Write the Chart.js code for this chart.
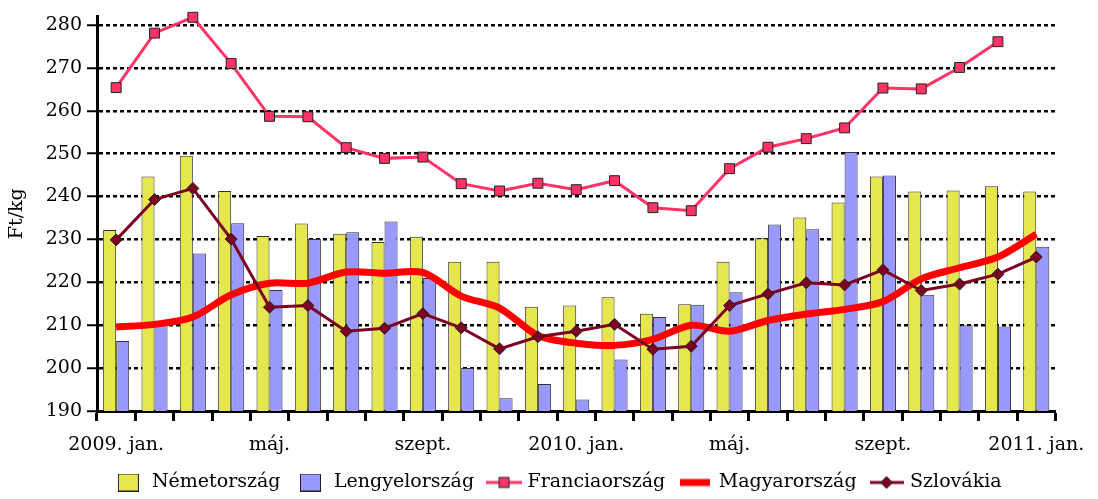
<!DOCTYPE html>
<html>
<head>
<meta charset="utf-8">
<script src="https://cdn.jsdelivr.net/npm/chart.js@4"></script>
<style>
    html, body { margin: 0; padding: 0; background: #fff; }
</style>
</head>
<body>
<canvas id="myChart" width="1098" height="499"></canvas>
<script>
const months = [
    "2009. jan.", "febr.", "márc.", "ápr.", "máj.", "jún.", "júl.", "aug.", "szept.", "okt.", "nov.", "dec.",
    "2010. jan.", "febr.", "márc.", "ápr.", "máj.", "jún.", "júl.", "aug.", "szept.", "okt.", "nov.", "dec.",
    "2011. jan.",
];
const yTicks = [190, 200, 210, 220, 230, 240, 250, 260, 270, 280];

const nemetorszag = [232.2, 244.7, 249.5, 241.3, 230.8, 233.7, 231.3, 229.4, 230.6, 224.8, 224.8, 214.3, 214.6,
    216.5, 212.7, 214.9, 224.8, 230.3, 235.1, 238.6, 244.7, 241.2, 241.4, 242.4, 241.2];
const lengyelorszag = [206.3, 211.0, 226.7, 233.8, 218.2, 230.1, 231.7, 234.2, 221.0, 200.0, 193.0, 196.3, 192.7,
    202.0, 211.9, 214.8, 217.7, 233.5, 232.4, 250.4, 244.9, 217.1, 210.0, 209.7, 228.3];
const franciaorszag = [265.4, 278.1, 281.8, 271.0, 258.7, 258.6, 251.4, 248.9, 249.2, 243.0, 241.3, 243.1, 241.6,
    243.7, 237.4, 236.7, 246.5, 251.5, 253.5, 256.0, 265.3, 265.1, 270.1, 276.1, null];
const magyarorszag = [209.6, 210.2, 211.9, 217.1, 219.8, 219.8, 222.4, 222.1, 222.3, 216.8, 214.0, 207.6, 205.8,
    205.3, 206.7, 210.0, 208.6, 211.1, 212.6, 213.7, 215.5, 220.8, 223.4, 225.9, 231.2];
const szlovakia = [229.9, 239.3, 241.9, 230.1, 214.2, 214.6, 208.6, 209.3, 212.7, 209.4, 204.5, 207.3, 208.6,
    210.2, 204.4, 205.1, 214.6, 217.3, 219.9, 219.4, 222.9, 218.1, 219.6, 221.9, 225.9];

const FONT = "'DejaVu Serif', 'Liberation Serif', serif";
const YELLOW = "#e6e64d";
const BLUE = "#9999ff";
const PINK = "#ff3366";
const RED = "#ff0000";
const MAROON = "#7d0022";

// small canvases used as legend symbols
const boxIcon = (color) => {
    const c = document.createElement("canvas");
    c.width = 21;
    c.height = 18;
    const ctx = c.getContext("2d");
    ctx.fillStyle = color;
    ctx.fillRect(0.5, 0.5, 20, 17);
    ctx.strokeStyle = "#222";
    ctx.lineWidth = 1;
    ctx.strokeRect(0.5, 0.5, 20, 17);
    return c;
};
const lineIcon = (color, width, lineW, marker) => {
    const c = document.createElement("canvas");
    c.width = width;
    c.height = 18;
    const ctx = c.getContext("2d");
    ctx.strokeStyle = color;
    ctx.lineWidth = lineW;
    ctx.beginPath();
    ctx.moveTo(0, 9);
    ctx.lineTo(width, 9);
    ctx.stroke();
    ctx.fillStyle = color;
    ctx.strokeStyle = "#222";
    ctx.lineWidth = 1;
    const cx = width / 2;
    if (marker === "square") {
        ctx.fillRect(cx - 5, 4, 10, 10);
        ctx.strokeRect(cx - 5, 4, 10, 10);
    } else if (marker === "diamond") {
        ctx.beginPath();
        ctx.moveTo(cx - 6, 9);
        ctx.lineTo(cx, 3);
        ctx.lineTo(cx + 6, 9);
        ctx.lineTo(cx, 15);
        ctx.closePath();
        ctx.fill();
        ctx.stroke();
    }
    return c;
};
const icons = [
    boxIcon(YELLOW),
    boxIcon(BLUE),
    lineIcon(PINK, 36, 3, "square"),
    lineIcon(RED, 30, 7),
    lineIcon(MAROON, 34, 3, "diamond"),
];

const data = {
    labels: months,
    datasets: [
        {
            type: "bar",
            label: "Németország",
            data: nemetorszag,
            backgroundColor: YELLOW,
            borderColor: "#333",
            borderWidth: 1,
            categoryPercentage: 0.68,
            barPercentage: 1.0,
            order: 4,
        },
        {
            type: "bar",
            label: "Lengyelország",
            data: lengyelorszag,
            backgroundColor: BLUE,
            borderColor: "#333",
            borderWidth: 1,
            categoryPercentage: 0.68,
            barPercentage: 1.0,
            order: 5,
        },
        {
            type: "line",
            label: "Franciaország",
            data: franciaorszag,
            borderColor: PINK,
            borderWidth: 3,
            backgroundColor: PINK,
            pointStyle: "rect",
            pointRadius: 7,
            pointBorderColor: "#222",
            pointBorderWidth: 1,
            pointBackgroundColor: PINK,
            tension: 0,
            clip: false,
            order: 2,
        },
        {
            type: "line",
            label: "Magyarország",
            data: magyarorszag,
            borderColor: RED,
            borderWidth: 7,
            backgroundColor: RED,
            pointRadius: 0,
            tension: 0.3,
            order: 3,
        },
        {
            type: "line",
            label: "Szlovákia",
            data: szlovakia,
            borderColor: MAROON,
            borderWidth: 3,
            backgroundColor: MAROON,
            pointStyle: "rectRot",
            pointRadius: 6,
            pointBorderColor: "#222",
            pointBorderWidth: 1,
            pointBackgroundColor: MAROON,
            tension: 0,
            order: 1,
        },
    ],
};

// the legend in the original sits a bit right of the canvas centre
const legendShift = {
    id: "legendShift",
    afterLayout(chart) {
        chart.legend.left += 28;
        chart.legend.right += 28;
    },
};

const config = {
    type: "bar",
    data,
    plugins: [legendShift],
    options: {
        responsive: false,
        animation: false,
        devicePixelRatio: 1,
        layout: {
            padding: { left: 0, right: 38, top: 11, bottom: -3 },
        },
        plugins: {
            tooltip: { enabled: false },
            legend: {
                position: "bottom",
                labels: {
                    font: { family: FONT, size: 19 },
                    color: "#000",
                    usePointStyle: true,
                    pointStyleWidth: 28,
                    padding: 16,
                    sort: (a, b) => a.datasetIndex - b.datasetIndex,
                    generateLabels: (chart) =>
                        Chart.defaults.plugins.legend.labels.generateLabels(chart).map((item) => {
                            item.pointStyle = icons[item.datasetIndex];
                            return item;
                        }),
                },
            },
        },
        scales: {
            x: {
                offset: true,
                grid: {
                    offset: true,
                    drawOnChartArea: false,
                    drawTicks: true,
                    tickLength: 10,
                    tickWidth: 3,
                    tickColor: "#000",
                },
                border: { display: true, color: "#000", width: 3 },
                ticks: {
                    autoSkip: false,
                    maxRotation: 0,
                    color: "#000",
                    padding: 13,
                    font: { family: FONT, size: 19 },
                    callback: (val, i) => (i % 4 === 0 ? months[i] : ""),
                },
                afterFit: (s) => {
                    s.height = 46;
                },
            },
            y: {
                min: 190,
                max: 282,
                grid: {
                    color: "#000",
                    lineWidth: 2.5,
                    tickLength: 10,
                    tickWidth: 2,
                    tickColor: "#000",
                },
                border: { display: true, color: "#000", width: 3, dash: [4, 3] },
                ticks: {
                    color: "#000",
                    padding: 5,
                    font: { family: FONT, size: 19 },
                },
                afterBuildTicks: (s) => {
                    s.ticks = yTicks.map((v) => ({ value: v }));
                },
                afterFit: (s) => {
                    s.width = 97;
                },
                title: {
                    display: true,
                    text: "Ft/kg",
                    color: "#000",
                    font: { family: FONT, size: 19 },
                    padding: { top: 6, bottom: 0 },
                },
            },
        },
    },
};

new Chart(document.getElementById("myChart"), config);
</script>
</body>
</html>
